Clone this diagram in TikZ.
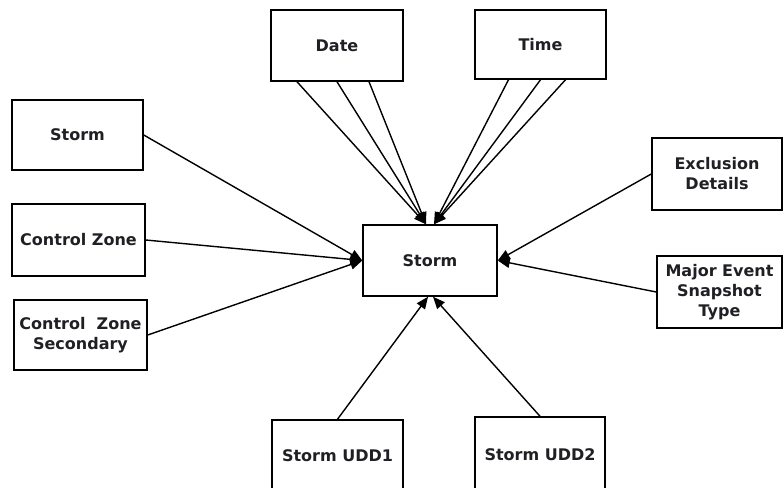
\documentclass[tikz,border=0pt]{standalone}
\usepackage{fontspec}
\setmainfont{DejaVu Sans}
\usetikzlibrary{arrows.meta}
\newlength{\du}
\setlength{\du}{1pt}
\definecolor{dialinecolor}{rgb}{0.000000, 0.000000, 0.000000}
\definecolor{diatextcolor}{rgb}{0.120000, 0.120000, 0.140000}
\tikzset{
  entity/.style={draw=dialinecolor, line width=1.500000\du, rectangle, inner sep=0pt,
    align=center, text=diatextcolor, font=\bfseries\fontsize{16}{20}\selectfont},
  link/.style={draw=dialinecolor, line width=1.400000\du,
    -{Triangle[length=12pt,width=10pt]}}
}
\begin{document}
\begin{tikzpicture}
\pgftransformxscale{1.000000}
\pgftransformyscale{-1.000000}
\useasboundingbox (0\du,0\du) rectangle (783\du,487\du);
% entities
\node[entity, minimum width=134\du, minimum height=71\du] (storm) at (430.000000\du,260.500000\du){Storm};
\node[entity, minimum width=132\du, minimum height=71\du] (date) at (337.000000\du,45.500000\du){Date};
\node[entity, minimum width=131\du, minimum height=69\du] (time) at (540.500000\du,44.500000\du){Time};
\node[entity, minimum width=131\du, minimum height=70\du] (stormleft) at (77.500000\du,135.000000\du){Storm};
\node[entity, minimum width=133\du, minimum height=72\du] (zone) at (78.500000\du,240.000000\du){Control Zone};
\node[entity, minimum width=133\du, minimum height=70\du] (zonesec) at (80.500000\du,335.000000\du){Control\ \ Zone\\Secondary};
\node[entity, minimum width=130\du, minimum height=72\du] (exclusion) at (717.000000\du,174.000000\du){Exclusion\\Details};
\node[entity, minimum width=125\du, minimum height=72\du] (snapshot) at (719.500000\du,292.000000\du){Major Event\\Snapshot\\Type};
\node[entity, minimum width=131\du, minimum height=72\du] (uddone) at (337.500000\du,456.000000\du){Storm UDD1};
\node[entity, minimum width=130\du, minimum height=76\du] (uddtwo) at (540.000000\du,455.000000\du){Storm UDD2};
% links to the centre
\foreach \dx in {-40,0,32}
  \draw[link] ([xshift=\dx pt]date.south) -- ([xshift=-4pt]storm.north);
\foreach \dx in {-32,0,25}
  \draw[link] ([xshift=\dx pt]time.south) -- ([xshift=4pt]storm.north);
\draw[link] (stormleft.east) -- (storm.west);
\draw[link] (zone.east) -- (storm.west);
\draw[link] (zonesec.east) -- (storm.west);
\draw[link] (exclusion.west) -- (storm.east);
\draw[link] (snapshot.west) -- (storm.east);
\draw[link] (uddone.north) -- ([xshift=-2pt]storm.south);
\draw[link] (uddtwo.north) -- ([xshift=3pt]storm.south);
\end{tikzpicture}
\end{document}
